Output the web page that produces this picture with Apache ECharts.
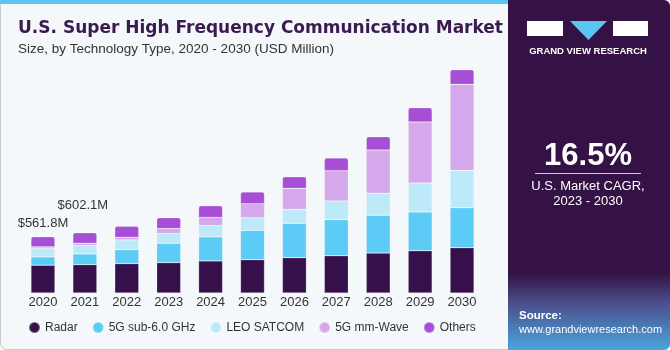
<!DOCTYPE html>
<html>
<head>
<meta charset="utf-8">
<script src="https://cdn.jsdelivr.net/npm/echarts@6/dist/echarts.min.js"></script>
<style>
  html, body { margin: 0; padding: 0; background: #ffffff; }
  #chart { width: 670px; height: 350px; }
</style>
</head>
<body>
<div id="chart"></div>
<script>
// values (USD million)
var years = ['2020', '2021', '2022', '2023', '2024', '2025', '2026', '2027', '2028', '2029', '2030'];
var radar = [278, 284, 294, 304, 321, 333, 353, 373, 400, 423, 453];
var sub6 = [83, 107, 140, 193, 241, 293, 343, 360, 377, 387, 400];
var leo = [83, 83, 97, 97, 113, 127, 140, 187, 220, 290, 373];
var mmWave = [17, 23, 27, 50, 80, 140, 210, 303, 433, 610, 860];
var others = [101, 105, 110, 110, 117, 117, 117, 127, 133, 143, 147];
var totalLabels = ['$561.8M', '$602.1M'];

var seriesNames = ['Radar', '5G sub-6.0 GHz', 'LEO SATCOM', '5G mm-Wave', 'Others'];
var colors = ['#36104a', '#5ccbf5', '#bde9f8', '#d4a8ea', '#a64fd6'];

var chart = echarts.init(document.getElementById('chart'));

function makeSeries(name, values, idx) {
    var s = {
        name: name,
        type: 'bar',
        stack: 'total',
        barWidth: 24,
        data: values,
        itemStyle: {
            color: colors[idx],
            borderColor: 'rgba(255,255,255,0.35)',
            borderWidth: 0.6
        },
        emphasis: { disabled: true }
    };
    if (idx === 4) {
        s.itemStyle.borderRadius = [2, 2, 0, 0];
        // total labels sit above the first two bars
        s.data = values.map(function (v, i) {
            if (!totalLabels[i]) return v;
            return {
                value: v,
                label: {
                    show: true,
                    position: 'top',
                    distance: i === 0 ? 7 : 21,
                    offset: [i === 0 ? 0 : -2, 0],
                    formatter: totalLabels[i],
                    fontSize: 13,
                    color: '#333',
                    fontFamily: 'Liberation Sans, Arial, sans-serif'
                }
            };
        });
    }
    return s;
}

var option = {
    animation: false,
    backgroundColor: 'transparent',
    grid: { left: 22, right: 187, top: 53, bottom: 57 },
    xAxis: {
        type: 'category',
        data: years,
        axisLine: { show: false },
        axisTick: { show: false },
        axisLabel: {
            fontSize: 13,
            color: '#333',
            margin: 3,
            fontFamily: 'Liberation Sans, Arial, sans-serif'
        }
    },
    yAxis: {
        type: 'value',
        min: 0,
        max: 2400,
        show: false,
        splitLine: { show: false }
    },
    legend: {
        data: seriesNames,
        left: 23,
        top: 316,
        icon: 'circle',
        itemWidth: 11,
        itemHeight: 11,
        itemGap: 14,
        textStyle: {
            fontSize: 12,
            color: '#333',
            fontFamily: 'Liberation Sans, Arial, sans-serif'
        }
    },
    graphic: [
        // card background
        { type: 'rect', z: -10, shape: { x: 0.5, y: 0.5, width: 669, height: 349, r: 6 },
          style: { fill: '#f4f8fb', stroke: '#c8c8c8', lineWidth: 1 } },
        { type: 'rect', z: -9, shape: { x: 0, y: 0, width: 508, height: 4 },
          style: { fill: '#5cc6f2' } },
        // right panel
        { type: 'rect', z: -8, shape: { x: 508, y: 0, width: 162, height: 350, r: [0, 6, 6, 0] },
          style: {
              fill: new echarts.graphic.LinearGradient(0, 0, 0, 1, [
                  { offset: 0, color: '#341245' },
                  { offset: 0.78, color: '#341245' },
                  { offset: 0.86, color: '#4b4a86' },
                  { offset: 1, color: '#4aa6de' }
              ])
          } },
        // logo
        { type: 'rect', shape: { x: 527, y: 21, width: 36, height: 15 }, style: { fill: '#ffffff' } },
        { type: 'polygon', shape: { points: [[570, 21], [607, 21], [588.5, 40]] }, style: { fill: '#5cc6f2' } },
        { type: 'rect', shape: { x: 613, y: 21, width: 35, height: 15 }, style: { fill: '#ffffff' } },
        { type: 'text', style: { x: 588, y: 51, text: 'GRAND VIEW RESEARCH', fill: '#ffffff',
            font: 'bold 9.5px Liberation Sans, Arial, sans-serif', align: 'center', verticalAlign: 'middle' } },
        // CAGR
        { type: 'text', style: { x: 588, y: 156, text: '16.5%', fill: '#ffffff',
            font: 'bold 31px Liberation Sans, Arial, sans-serif', align: 'center', verticalAlign: 'middle' } },
        { type: 'line', shape: { x1: 535, y1: 173.5, x2: 641, y2: 173.5 }, style: { stroke: '#cfc4d8', lineWidth: 1 } },
        { type: 'text', style: { x: 588, y: 186, text: 'U.S. Market CAGR,', fill: '#ffffff',
            font: '13px Liberation Sans, Arial, sans-serif', align: 'center', verticalAlign: 'middle' } },
        { type: 'text', style: { x: 588, y: 201, text: '2023 - 2030', fill: '#ffffff',
            font: '13px Liberation Sans, Arial, sans-serif', align: 'center', verticalAlign: 'middle' } },
        // source
        { type: 'text', style: { x: 519, y: 316, text: 'Source:', fill: '#ffffff',
            font: 'bold 11.5px Liberation Sans, Arial, sans-serif', verticalAlign: 'middle' } },
        { type: 'text', style: { x: 519, y: 330, text: 'www.grandviewresearch.com', fill: '#ffffff',
            font: '11px Liberation Sans, Arial, sans-serif', verticalAlign: 'middle' } },
        // titles
        { type: 'text', style: { x: 18, y: 29, text: 'U.S. Super High Frequency Communication Market', fill: '#3b1a4f',
            font: 'bold 17px DejaVu Sans, Verdana, sans-serif', verticalAlign: 'middle' } },
        { type: 'text', style: { x: 18, y: 49, text: 'Size, by Technology Type, 2020 - 2030 (USD Million)', fill: '#333333',
            font: '13.5px Liberation Sans, Arial, sans-serif', verticalAlign: 'middle' } }
    ],
    series: [
        makeSeries(seriesNames[0], radar, 0),
        makeSeries(seriesNames[1], sub6, 1),
        makeSeries(seriesNames[2], leo, 2),
        makeSeries(seriesNames[3], mmWave, 3),
        makeSeries(seriesNames[4], others, 4)
    ]
};

chart.setOption(option);
</script>
</body>
</html>
